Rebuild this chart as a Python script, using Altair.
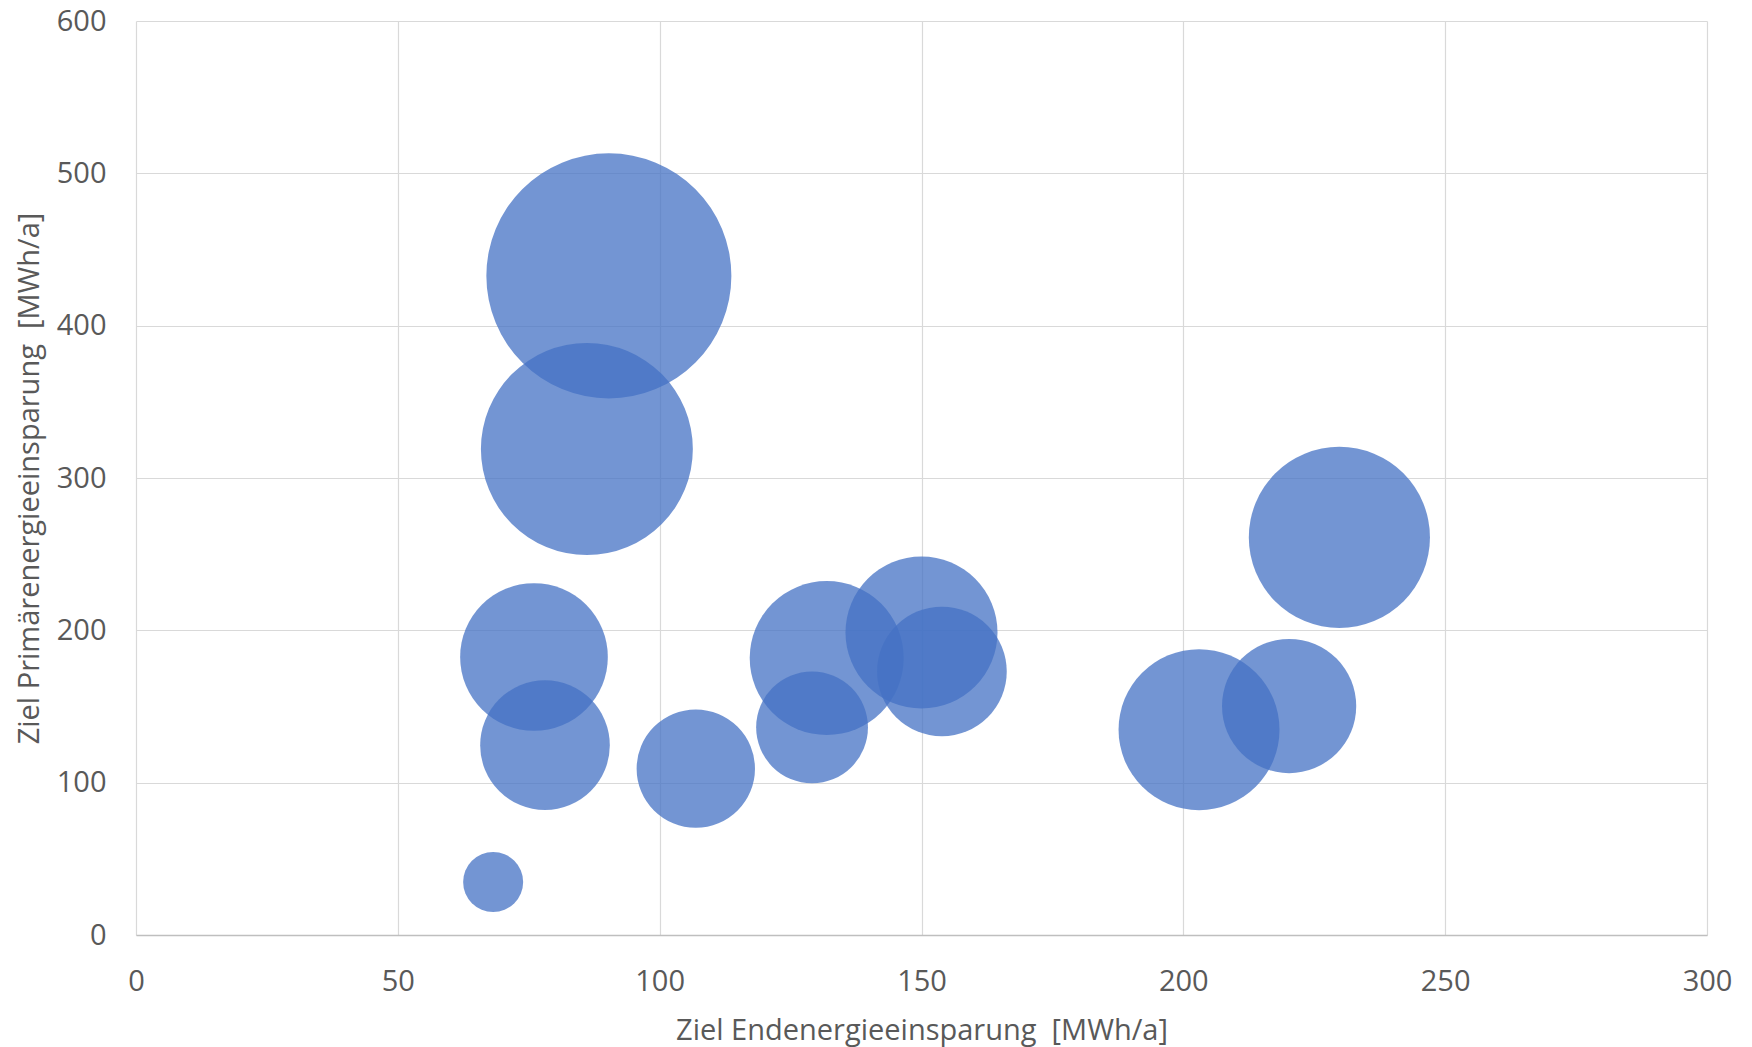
import altair as alt
import pandas as pd

# Ziel Endenergieeinsparung [MWh/a]
end_energie = [90.3, 86.1, 76.0, 78.1, 68.2, 106.9, 131.9, 129.1, 150.0, 153.9, 203.0, 220.2, 229.8]
# Ziel Primärenergieeinsparung [MWh/a]
primaer_energie = [432.7, 319.0, 182.5, 124.6, 34.8, 109.2, 181.8, 136.3, 198.6, 173.0, 134.8, 150.3, 261.0]
# Blasengröße (relative Fläche)
blasen = [600, 449, 218, 168, 36, 140, 237, 125, 231, 168, 259, 180, 328]

df = pd.DataFrame({"x": end_energie, "y": primaer_energie, "s": blasen})

FONT = "Open Sans"
TXT = "#595959"

chart = alt.Chart(df).mark_circle(color="#4472C4", opacity=0.75).encode(
    x=alt.X("x:Q", scale=alt.Scale(domain=[0, 300], nice=False),
            axis=alt.Axis(title="Ziel Endenergieeinsparung\u00a0 [MWh/a]", values=[0, 50, 100, 150, 200, 250, 300],
                          ticks=False, labelPadding=32, labelFontSize=29, labelColor=TXT, labelFont=FONT,
                          labelFlush=False,
                          titleFont=FONT, titleFontSize=29, titleFontWeight="normal", titleColor=TXT,
                          titlePadding=20, domainColor="#BFBFBF", domainWidth=1.5,
                          gridColor="#D9D9D9", gridWidth=1.2)),
    y=alt.Y("y:Q", scale=alt.Scale(domain=[0, 600], nice=False),
            axis=alt.Axis(title="Ziel Primärenergieeinsparung\u00a0 [MWh/a]", values=[0, 100, 200, 300, 400, 500, 600],
                          ticks=False, labelPadding=30, labelFontSize=29, labelColor=TXT, labelFont=FONT,
                          labelFlush=False,
                          titleFont=FONT, titleFontSize=29, titleFontWeight="normal", titleColor=TXT,
                          titlePadding=12, domain=False,
                          gridColor="#D9D9D9", gridWidth=1.2)),
    size=alt.Size("s:Q", scale=alt.Scale(domain=[0, 600], range=[0, 60025], zero=True), legend=None),
).properties(
    width=1571, height=914,
    autosize=alt.AutoSizeParams(type="none"),
    padding={"left": 128, "top": 13, "right": 36, "bottom": 112},
).configure_view(stroke=None)

chart.save("out.html", embed_options={"renderer": "svg", "actions": False})
